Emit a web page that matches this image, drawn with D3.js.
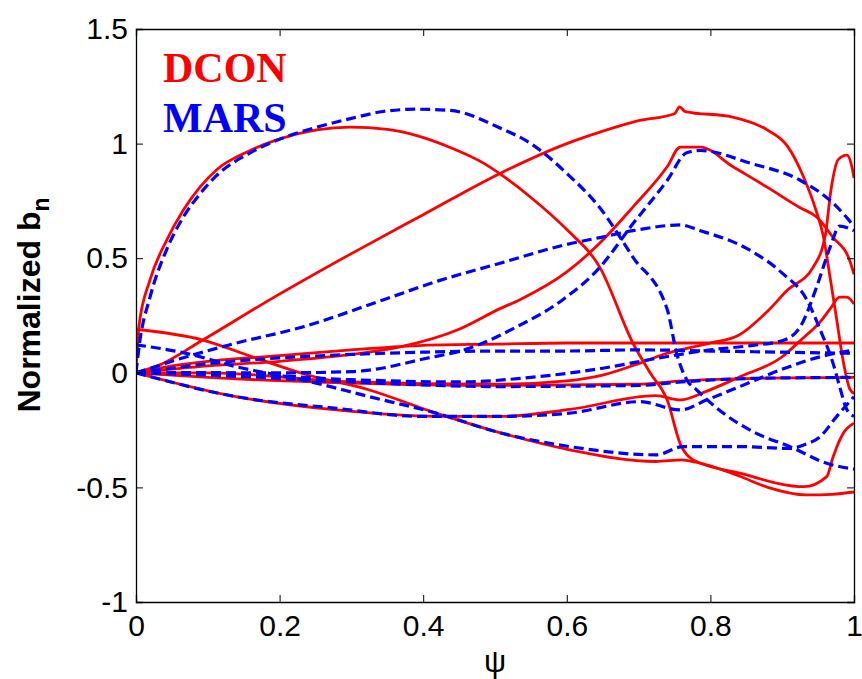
<!DOCTYPE html>
<html>
<head>
<meta charset="utf-8">
<script src="https://cdn.jsdelivr.net/npm/d3@7"></script>
<style>
  body { margin: 0; background: #fff; }
  svg { display: block; }
</style>
</head>
<body>
<svg id="chart" width="862" height="679"></svg>
<script>
// tick labels
var xTicks = [0, 0.2, 0.4, 0.6, 0.8, 1];
var yTicks = [-1, -0.5, 0, 0.5, 1, 1.5];

// DCON curves, [psi, normalized bn]
var dcon1 = [[0,0],[0.004,0.2],[0.0195,0.405],[0.043,0.58],[0.066,0.71],[0.089,0.81],[0.112,0.885],[0.159,0.97],[0.205,1.025],[0.252,1.06],[0.298,1.072],[0.35,1.062],[0.391,1.035],[0.44,0.98],[0.484,0.915],[0.507,0.868],[0.55,0.765],[0.6,0.625],[0.646,0.46],[0.692,0.13],[0.716,0.0],[0.74,-0.12],[0.758,-0.31],[0.776,-0.38],[0.841,-0.438],[0.93,-0.497],[0.962,-0.453],[0.971,-0.366],[0.985,-0.264],[1,-0.22]];
var dcon2 = [[0,0],[0.03,0.03],[0.093,0.143],[0.186,0.318],[0.3,0.52],[0.4,0.69],[0.507,0.87],[0.6,1.0],[0.646,1.05],[0.7,1.1],[0.75,1.13],[0.757,1.16],[0.765,1.14],[0.831,1.116],[0.879,1.06],[0.907,0.99],[0.929,0.86],[0.948,0.7],[0.957,0.6],[0.967,0.41],[0.976,0.23],[0.985,0.05],[0.994,-0.07],[1,-0.09]];
var dcon3 = [[0,0],[0.1,0.03],[0.2,0.05],[0.3,0.08],[0.371,0.115],[0.45,0.19],[0.507,0.28],[0.534,0.318],[0.6,0.44],[0.646,0.566],[0.692,0.723],[0.74,0.9],[0.758,0.985],[0.786,0.985],[0.831,0.9],[0.879,0.81],[0.925,0.72],[0.948,0.68],[0.971,0.59],[0.994,0.49],[1,0.43]];
var dcon4 = [[0,0],[0.05,0.03],[0.1,0.05],[0.2,0.075],[0.3,0.1],[0.4,0.12],[0.5,0.125],[0.6,0.13],[0.7,0.13],[0.8,0.13],[0.9,0.13],[1,0.13]];
var dcon5 = [[0,0.19],[0.093,0.143],[0.162,0.07],[0.232,-0.003],[0.325,-0.075],[0.418,-0.176],[0.51,-0.264],[0.604,-0.336],[0.724,-0.387],[0.76,-0.38],[0.78,-0.39],[0.84,-0.45],[0.88,-0.5],[0.934,-0.533],[0.97,-0.53],[1,-0.52]];
var dcon6 = [[0,0],[0.139,-0.104],[0.279,-0.162],[0.418,-0.19],[0.51,-0.19],[0.604,-0.16],[0.724,-0.1],[0.758,-0.118],[0.795,-0.08],[0.841,-0.017],[0.9,0.07],[0.925,0.14],[0.955,0.23],[0.967,0.28],[0.98,0.33],[0.99,0.33],[1,0.3]];
var dcon7 = [[0,0],[0.1,-0.02],[0.3,-0.045],[0.5,-0.055],[0.7,-0.05],[0.76,-0.035],[0.85,-0.025],[1,-0.02]];
var dcon8 = [[0,0],[0.1,0.0],[0.3,-0.04],[0.5,-0.05],[0.6,-0.035],[0.65,-0.01],[0.7,0.04],[0.734,0.08],[0.8,0.13],[0.84,0.165],[0.88,0.27],[0.907,0.36],[0.943,0.46],[0.96,0.6],[0.968,0.8],[0.978,0.93],[0.99,0.95],[0.997,0.9],[1,0.85]];

// MARS curves
var mars1 = [[0,0],[0.005,0.13],[0.0195,0.33],[0.043,0.54],[0.066,0.68],[0.089,0.78],[0.112,0.86],[0.159,0.96],[0.205,1.025],[0.25,1.07],[0.3,1.11],[0.344,1.14],[0.39,1.15],[0.437,1.145],[0.507,1.068],[0.55,1.0],[0.6,0.87],[0.646,0.72],[0.692,0.505],[0.74,0.275],[0.753,0.085],[0.767,-0.03],[0.781,-0.075],[0.818,-0.176],[0.864,-0.264],[0.911,-0.322],[0.962,-0.395],[1,-0.42]];
var mars2 = [[0,0],[0.1,0.0],[0.2,0.0],[0.3,0.005],[0.325,0.012],[0.4,0.06],[0.464,0.107],[0.53,0.2],[0.594,0.318],[0.646,0.46],[0.692,0.65],[0.74,0.84],[0.767,0.96],[0.786,0.97],[0.855,0.915],[0.925,0.84],[0.971,0.74],[1,0.64]];
var mars3 = [[0,0],[0.02,0.02],[0.06,0.06],[0.139,0.129],[0.232,0.2],[0.344,0.318],[0.42,0.4],[0.507,0.478],[0.6,0.56],[0.646,0.59],[0.692,0.62],[0.758,0.645],[0.786,0.62],[0.855,0.535],[0.9,0.435],[0.934,0.32],[0.953,0.187],[0.971,0.04],[0.98,-0.06],[0.99,-0.16],[1,-0.19]];
var mars4 = [[0,0.122],[0.07,0.085],[0.139,0.027],[0.232,-0.031],[0.325,-0.104],[0.418,-0.176],[0.51,-0.264],[0.604,-0.322],[0.724,-0.358],[0.762,-0.322],[0.841,-0.322],[0.911,-0.33],[0.93,-0.315],[0.953,-0.278],[0.976,-0.19],[1,-0.104]];
var mars5 = [[0,0],[0.139,-0.104],[0.279,-0.155],[0.395,-0.19],[0.51,-0.19],[0.604,-0.176],[0.702,-0.126],[0.758,-0.162],[0.795,-0.118],[0.841,-0.06],[0.897,0.012],[0.953,0.07],[1,0.1]];
var mars6 = [[0,0],[0.05,0.02],[0.1,0.04],[0.2,0.065],[0.3,0.08],[0.4,0.09],[0.5,0.095],[0.6,0.095],[0.7,0.1],[0.8,0.095],[0.9,0.09],[1,0.085]];
var mars7 = [[0,0],[0.1,-0.01],[0.3,-0.04],[0.5,-0.06],[0.7,-0.055],[0.76,-0.04],[0.85,-0.025],[1,-0.02]];
var mars8 = [[0,0],[0.1,0.0],[0.3,-0.03],[0.45,-0.04],[0.55,-0.02],[0.65,0.02],[0.72,0.06],[0.8,0.1],[0.86,0.12],[0.9,0.14],[0.925,0.2],[0.948,0.375],[0.967,0.55],[0.98,0.64],[1,0.62]];

var dconCurves = [dcon1, dcon2, dcon3, dcon4, dcon5, dcon6, dcon7, dcon8];
var marsCurves = [mars1, mars2, mars3, mars4, mars5, mars6, mars7, mars8];

(function () {
  var svg = d3.select('#chart');
  var plotLeft = 136, plotRight = 854, plotTop = 29, plotBottom = 602;

  var x = d3.scaleLinear().domain([0, 1]).range([plotLeft, plotRight]);
  var y = d3.scaleLinear().domain([-1, 1.5]).range([plotBottom, plotTop]);

  svg.append('defs').append('clipPath').attr('id', 'plot-clip')
    .append('rect')
    .attr('x', plotLeft).attr('y', plotTop)
    .attr('width', plotRight - plotLeft).attr('height', plotBottom - plotTop);

  var line = d3.line()
    .x(function (d) { return x(d[0]); })
    .y(function (d) { return y(d[1]); })
    .curve(d3.curveMonotoneX);

  var curves = svg.append('g').attr('clip-path', 'url(#plot-clip)');

  curves.selectAll('path.dcon')
    .data(dconCurves)
    .enter()
    .append('path')
    .attr('class', 'dcon')
    .attr('d', line)
    .attr('fill', 'none')
    .attr('stroke', '#ff0000')
    .attr('stroke-width', 2.8);

  curves.selectAll('path.mars')
    .data(marsCurves)
    .enter()
    .append('path')
    .attr('class', 'mars')
    .attr('d', line)
    .attr('fill', 'none')
    .attr('stroke', '#0000ff')
    .attr('stroke-width', 3.2)
    .attr('stroke-dasharray', '10,5');

  // box + ticks, matlab style (ticks inside, mirrored)
  var fmt = function (d) { return String(d); };

  svg.append('g')
    .attr('transform', 'translate(0,' + plotBottom + ')')
    .call(d3.axisBottom(x).tickValues(xTicks).tickSize(-7).tickPadding(13).tickFormat(fmt));
  svg.append('g')
    .attr('transform', 'translate(0,' + plotTop + ')')
    .call(d3.axisTop(x).tickValues(xTicks).tickSize(-7).tickFormat(''));
  svg.append('g')
    .attr('transform', 'translate(' + plotLeft + ',0)')
    .call(d3.axisLeft(y).tickValues(yTicks).tickSize(-7).tickPadding(8).tickFormat(fmt));
  svg.append('g')
    .attr('transform', 'translate(' + plotRight + ',0)')
    .call(d3.axisRight(y).tickValues(yTicks).tickSize(-7).tickFormat(''));

  svg.selectAll('.domain').attr('stroke', '#000').attr('stroke-width', 1.3);
  svg.selectAll('.tick line').attr('stroke', '#000').attr('stroke-width', 1);
  svg.selectAll('.tick text')
    .attr('fill', '#000')
    .style('font-family', 'Liberation Sans, Arial, sans-serif')
    .style('font-size', '30px');

  // axis labels
  svg.append('text')
    .attr('x', x(0.5))
    .attr('y', 672)
    .attr('text-anchor', 'middle')
    .style('font-family', 'Liberation Sans, Arial, sans-serif')
    .style('font-size', '31px')
    .text('ψ');

  var yl = svg.append('text')
    .attr('transform', 'translate(40,305) rotate(-90)')
    .attr('text-anchor', 'middle')
    .style('font-family', 'Liberation Sans, Arial, sans-serif')
    .style('font-weight', 'bold')
    .style('font-size', '32px');
  yl.append('tspan').text('Normalized b');
  yl.append('tspan').attr('dy', 9).style('font-size', '23px').text('n');

  // legend text
  svg.append('text')
    .attr('x', 163).attr('y', 82)
    .attr('fill', '#ff0000')
    .style('font-family', 'Liberation Serif, Times New Roman, serif')
    .style('font-weight', 'bold')
    .style('font-size', '42px')
    .text('DCON');
  svg.append('text')
    .attr('x', 163).attr('y', 132)
    .attr('fill', '#0000ff')
    .style('font-family', 'Liberation Serif, Times New Roman, serif')
    .style('font-weight', 'bold')
    .style('font-size', '42px')
    .text('MARS');
})();
</script>
</body>
</html>
